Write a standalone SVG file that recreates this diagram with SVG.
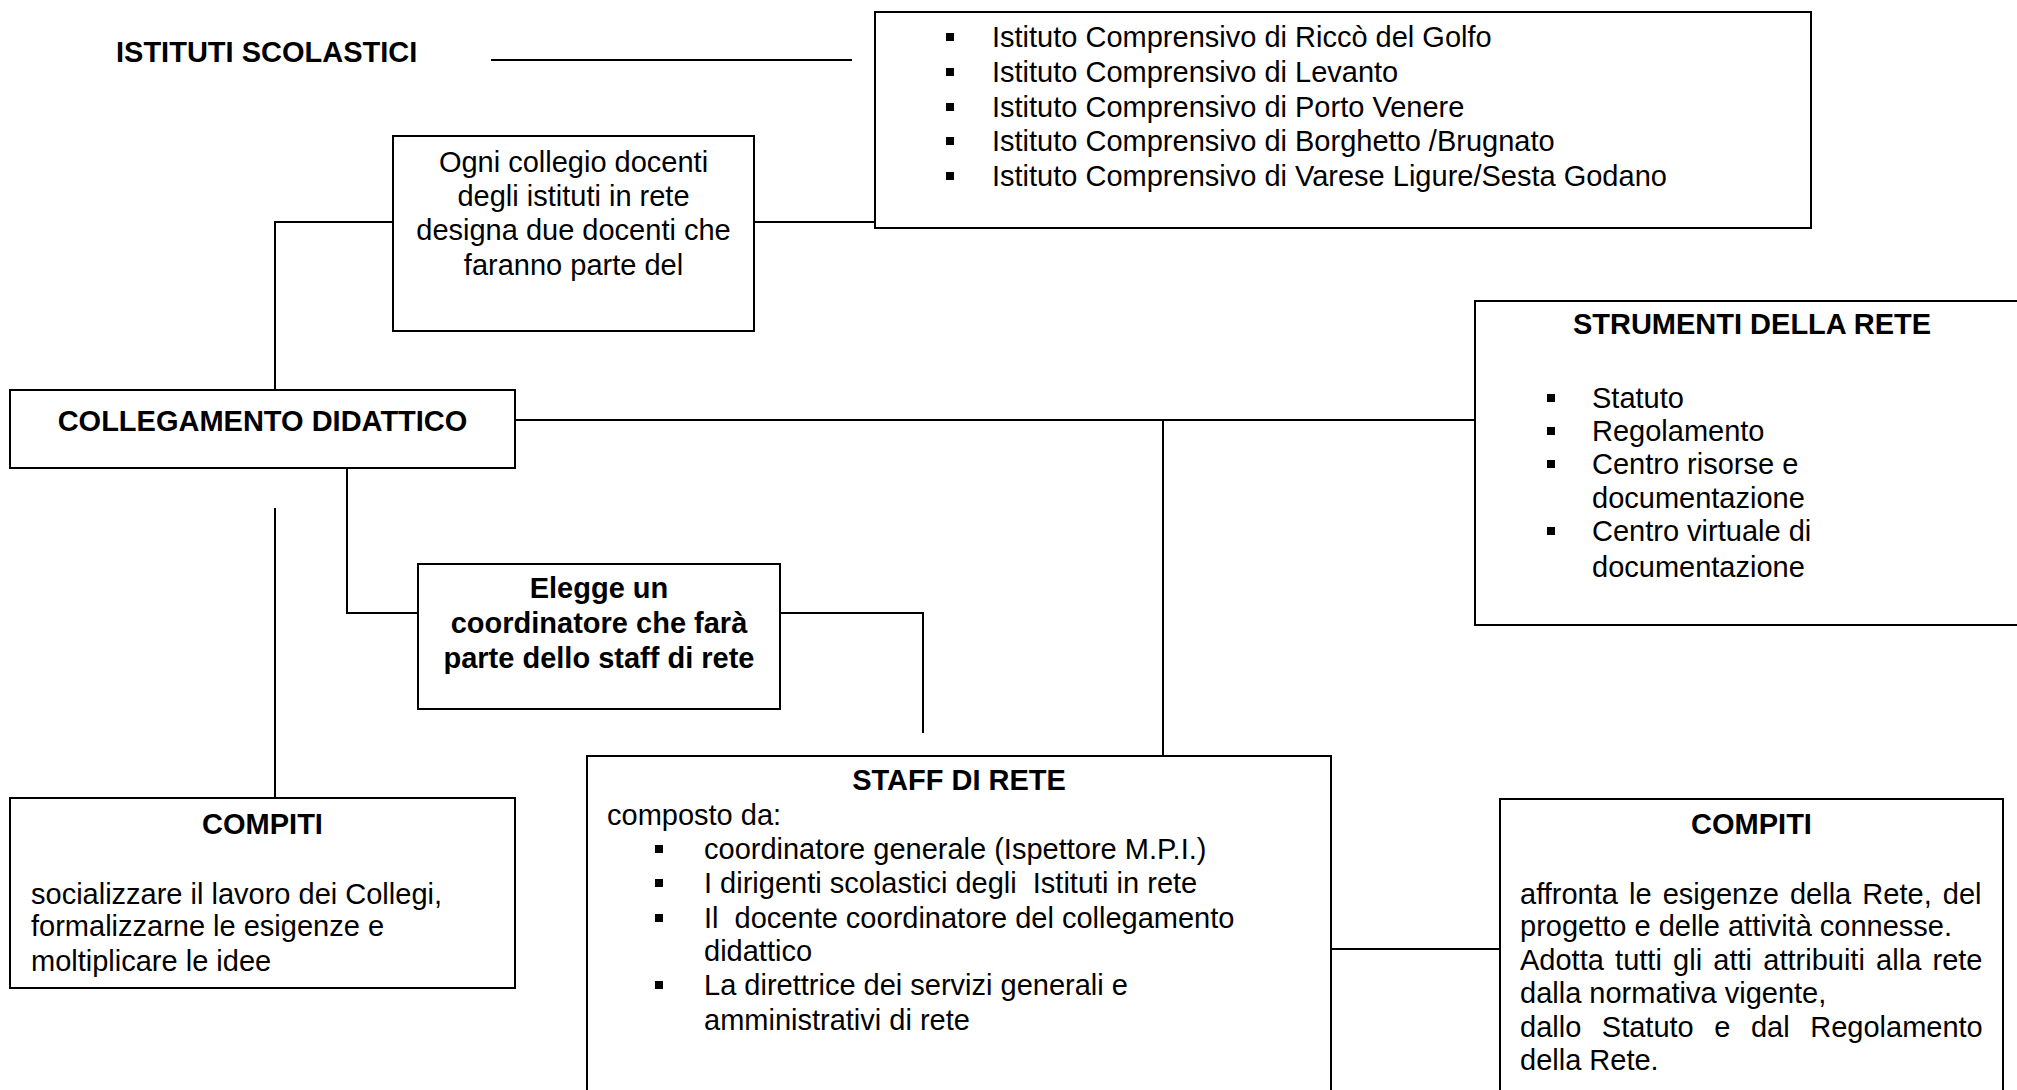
<svg xmlns="http://www.w3.org/2000/svg" xmlns:xlink="http://www.w3.org/1999/xlink" width="2017" height="1090" viewBox="0 0 2017 1090">
<style>
.box{fill:#fff;stroke:#000;stroke-width:2}
.ln{fill:none;stroke:#000;stroke-width:2}
text{font-family:"Liberation Sans",Arial,sans-serif;font-size:29px;fill:#000}
.b{font-weight:bold}
.c{text-anchor:middle}
</style>
<defs>
<rect id="bul" x="-4" y="-4" width="8" height="8" fill="#000"/>
</defs>
<rect width="2017" height="1090" fill="#fff"/>
<g id="connectors">
<path class="ln" d="M491,60 H852"/>
<path class="ln" d="M393,222 H275 V390"/>
<path class="ln" d="M754,222 H875"/>
<path class="ln" d="M515,420 H1475"/>
<path class="ln" d="M1163,420 V756"/>
<path class="ln" d="M347,468 V613 H418"/>
<path class="ln" d="M780,613 H923 V733"/>
<path class="ln" d="M275,508 V798"/>
<path class="ln" d="M1331,949 H1500"/>
</g>
<g id="istituti-label">
<text class="b" x="116" y="62">ISTITUTI SCOLASTICI</text>
</g>
<g id="istituti">
<rect class="box" x="875" y="12" width="936" height="216"/>
<use xlink:href="#bul" x="950" y="37"/>
<use xlink:href="#bul" x="950" y="72"/>
<use xlink:href="#bul" x="950" y="107"/>
<use xlink:href="#bul" x="950" y="141"/>
<use xlink:href="#bul" x="950" y="176"/>
<text x="992" y="47">Istituto Comprensivo di Riccò del Golfo</text>
<text x="992" y="82">Istituto Comprensivo di Levanto</text>
<text x="992" y="117">Istituto Comprensivo di Porto Venere</text>
<text x="992" y="151">Istituto Comprensivo di Borghetto /Brugnato</text>
<text x="992" y="186">Istituto Comprensivo di Varese Ligure/Sesta Godano</text>
</g>
<g id="ogni-collegio">
<rect class="box" x="393" y="136" width="361" height="195"/>
<text class="c" x="573.5" y="172">Ogni collegio docenti</text>
<text class="c" x="573.5" y="206">degli istituti in rete</text>
<text class="c" x="573.5" y="240">designa due docenti che</text>
<text class="c" x="573.5" y="275">faranno parte del</text>
</g>
<g id="collegamento">
<rect class="box" x="10" y="390" width="505" height="78"/>
<text class="b c" x="262.5" y="431">COLLEGAMENTO DIDATTICO</text>
</g>
<g id="strumenti">
<rect class="box" x="1475" y="301" width="560" height="324"/>
<text class="b c" x="1752" y="334">STRUMENTI DELLA RETE</text>
<use xlink:href="#bul" x="1551" y="398"/>
<use xlink:href="#bul" x="1551" y="431"/>
<use xlink:href="#bul" x="1551" y="464"/>
<use xlink:href="#bul" x="1551" y="531"/>
<text x="1592" y="408">Statuto</text>
<text x="1592" y="441">Regolamento</text>
<text x="1592" y="474">Centro risorse e</text>
<text x="1592" y="508">documentazione</text>
<text x="1592" y="541">Centro virtuale di</text>
<text x="1592" y="577">documentazione</text>
</g>
<g id="elegge">
<rect class="box" x="418" y="564" width="362" height="145"/>
<text class="b c" x="599" y="598">Elegge un</text>
<text class="b c" x="599" y="633">coordinatore che farà</text>
<text class="b c" x="599" y="668">parte dello staff di rete</text>
</g>
<g id="compiti-sx">
<rect class="box" x="10" y="798" width="505" height="190"/>
<text class="b c" x="262.5" y="834">COMPITI</text>
<text x="31" y="904">socializzare il lavoro dei Collegi,</text>
<text x="31" y="936">formalizzarne le esigenze e</text>
<text x="31" y="971">moltiplicare le idee</text>
</g>
<g id="staff">
<rect class="box" x="587" y="756" width="744" height="360"/>
<text class="b c" x="959" y="790">STAFF DI RETE</text>
<text x="607" y="825">composto da:</text>
<use xlink:href="#bul" x="659" y="849"/>
<use xlink:href="#bul" x="659" y="883"/>
<use xlink:href="#bul" x="659" y="918"/>
<use xlink:href="#bul" x="659" y="985"/>
<text x="704" y="859">coordinatore generale (Ispettore M.P.I.)</text>
<text x="704" y="893" xml:space="preserve">I dirigenti scolastici degli  Istituti in rete</text>
<text x="704" y="928" xml:space="preserve">Il  docente coordinatore del collegamento</text>
<text x="704" y="961">didattico</text>
<text x="704" y="995">La direttrice dei servizi generali e</text>
<text x="704" y="1030">amministrativi di rete</text>
</g>
<g id="compiti-dx">
<rect class="box" x="1500" y="799" width="503" height="320"/>
<text class="b c" x="1751.5" y="834">COMPITI</text>
<text x="1520" y="904" word-spacing="3.1">affronta le esigenze della Rete, del</text>
<text x="1520" y="936">progetto e delle attività connesse.</text>
<text x="1520" y="970" word-spacing="3.2">Adotta tutti gli atti attribuiti alla rete</text>
<text x="1520" y="1003">dalla normativa vigente,</text>
<text x="1520" y="1037" word-spacing="12.5">dallo Statuto e dal Regolamento</text>
<text x="1520" y="1070">della Rete.</text>
</g>
</svg>
